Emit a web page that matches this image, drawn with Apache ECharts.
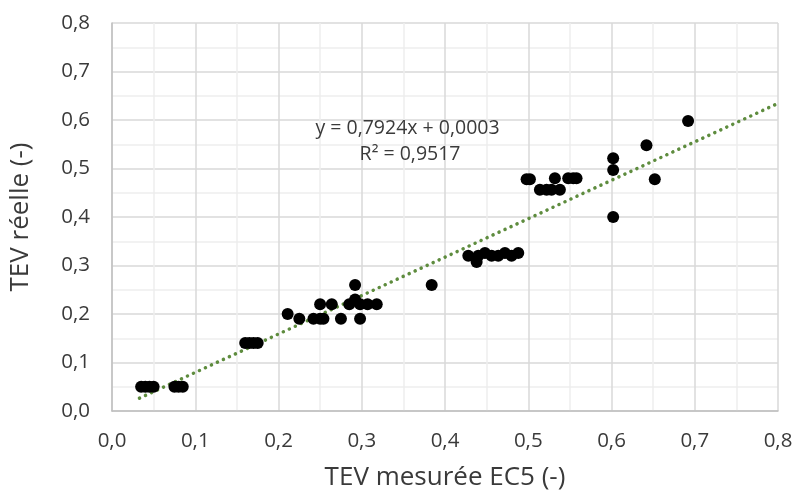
<!DOCTYPE html>
<html><head><meta charset="utf-8">
<script src="https://cdn.jsdelivr.net/npm/echarts@6/dist/echarts.min.js"></script>
<style>html,body{margin:0;padding:0;background:#fff}#c{width:796px;height:494px}</style>
</head><body><div id="c"></div>
<script>
const measuredX = [0.035,0.040,0.045,0.050,0.075,0.080,0.085,
  0.160,0.165,0.170,0.175,
  0.211,0.225,0.242,0.250,0.254,0.250,0.264,0.275,0.285,0.292,0.292,0.298,0.298,0.307,0.318,
  0.384,
  0.428,0.438,0.440,0.448,0.456,0.464,0.472,0.480,0.488,
  0.498,0.502,0.514,0.522,0.528,0.532,0.538,0.548,0.554,0.558,
  0.602,0.602,0.602,0.642,0.652,0.692];
const realY = [0.05,0.05,0.05,0.05,0.05,0.05,0.05,
  0.14,0.14,0.14,0.14,
  0.20,0.19,0.19,0.19,0.19,0.22,0.22,0.19,0.22,0.26,0.23,0.19,0.22,0.22,0.22,
  0.26,
  0.32,0.307,0.32,0.326,0.32,0.32,0.326,0.32,0.326,
  0.478,0.478,0.456,0.456,0.456,0.48,0.456,0.48,0.48,0.48,
  0.521,0.497,0.40,0.548,0.478,0.598];
const slope = 0.7924, intercept = 0.0003;
const trendX = [0.033, 0.8];
const tickLabels = ['0,0','0,1','0,2','0,3','0,4','0,5','0,6','0,7','0,8'];
const eqText = 'y = 0,7924x + 0,0003';
const r2Text = 'R² = 0,9517';
const xTitle = 'TEV mesurée EC5 (-)';
const yTitle = 'TEV réelle (-)';

const font = 'Open Sans';
const pts = measuredX.map((x,i)=>[x, realY[i]]);
const trend = trendX.map(x=>[x, slope*x+intercept]);
const fmt = v => tickLabels[Math.round(v*10)];

const axisCommon = {
  type:'value', min:0, max:0.8, interval:0.1,
  axisLine:{show:true, lineStyle:{color:'#bfbfbf', width:1.5}},
  axisTick:{show:false},
  minorTick:{show:false, splitNumber:2},
  splitLine:{show:true, lineStyle:{color:'#d9d9d9', width:1.5}},
  minorSplitLine:{show:true, lineStyle:{color:'#eeeeee', width:1.5}},
  axisLabel:{formatter:fmt, color:'#3a3a3a', fontFamily:font, fontSize:20.5},
  nameLocation:'middle',
  nameTextStyle:{color:'#3a3a3a', fontFamily:font, fontSize:26}
};

const chart = echarts.init(document.getElementById('c'));
chart.setOption({
  animation:false,
  grid:{left:112, right:18, top:23, bottom:83, containLabel:false, outerBoundsMode:'none'},
  xAxis:Object.assign({}, axisCommon, {name:xTitle, nameGap:54,
    axisLabel:Object.assign({}, axisCommon.axisLabel, {margin:20})}),
  yAxis:Object.assign({}, axisCommon, {name:yTitle, nameGap:78,
    axisLabel:Object.assign({}, axisCommon.axisLabel, {margin:22})}),
  series:[
    {type:'line', data:trend, symbol:'none', z:1, silent:true,
     lineStyle:{color:'#5e8c3e', width:3.5, type:[0.1,6.5], cap:'round'}},
    {type:'scatter', data:pts, symbol:'circle', symbolSize:12, z:2,
     itemStyle:{color:'#000', opacity:1}}
  ]
});
const c1 = chart.convertToPixel({gridIndex:0},[0.355,0.583]);
const c2 = chart.convertToPixel({gridIndex:0},[0.358,0.530]);
chart.setOption({graphic:[
  {type:'text', id:'eq', x:c1[0], y:c1[1], style:{text:eqText, fill:'#3a3a3a', font:'19.5px "'+font+'"', align:'center', verticalAlign:'middle'}},
  {type:'text', id:'r2', x:c2[0], y:c2[1], style:{text:r2Text, fill:'#3a3a3a', font:'19.5px "'+font+'"', align:'center', verticalAlign:'middle'}}
]});
</script></body></html>
